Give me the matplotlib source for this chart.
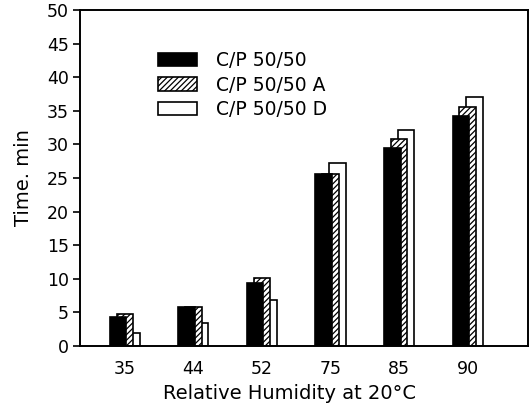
import matplotlib
matplotlib.use('Agg')
import matplotlib.pyplot as plt
import numpy as np

humidity = ['35', '44', '52', '75', '85', '90']
cp_5050 = [4.3, 5.8, 9.4, 25.6, 29.4, 34.2]
cp_5050_a = [4.8, 5.8, 10.1, 25.6, 30.8, 35.5]
cp_5050_d = [2.0, 3.4, 6.8, 27.2, 32.1, 37.1]
labels = ['C/P 50/50', 'C/P 50/50 A', 'C/P 50/50 D']

plt.rcParams['font.family'] = 'DejaVu Sans'
plt.rcParams['hatch.linewidth'] = 0.9

fig = plt.figure(figsize=(5.32, 4.15), dpi=100)
ax = fig.add_axes([0.150, 0.166, 0.842, 0.810])

x = np.arange(len(humidity))
w = 0.24
off = 0.1
bar_d = ax.bar(x + off, cp_5050_d, w, color='white', edgecolor='black', linewidth=1.2, zorder=1, label=labels[2])
bar_a = ax.bar(x, cp_5050_a, w, color='white', edgecolor='black', hatch='//////', linewidth=1.2, zorder=2, label=labels[1])
bar_b = ax.bar(x - off, cp_5050, w, color='black', edgecolor='black', linewidth=1.2, zorder=3, label=labels[0])

ax.set_xlim(-0.656, 5.875)
ax.set_ylim(0, 50)
ax.set_yticks(np.arange(0, 51, 5))
ax.set_xticks(x)
ax.set_xticklabels(humidity)
ax.tick_params(axis='x', length=0, pad=10, labelsize=12.5)
ax.tick_params(axis='y', direction='out', length=5, width=1.2, pad=3, labelsize=12.5)
for s in ax.spines.values():
    s.set_linewidth(1.4)

ax.set_xlabel('Relative Humidity at 20°C', fontsize=14)
ax.set_ylabel('Time. min', fontsize=14)
ax.xaxis.set_label_coords(0.469, -0.113)
ax.yaxis.set_label_coords(-0.105, 0.5)

leg = ax.legend(handles=[bar_b, bar_a, bar_d], loc='upper left', bbox_to_anchor=(0.174, 0.878),
                frameon=False, fontsize=13.5, handlelength=2.1, handleheight=0.7,
                labelspacing=0.3, handletextpad=1.0, borderaxespad=0, borderpad=0)

fig.savefig('out.png', dpi=100)
